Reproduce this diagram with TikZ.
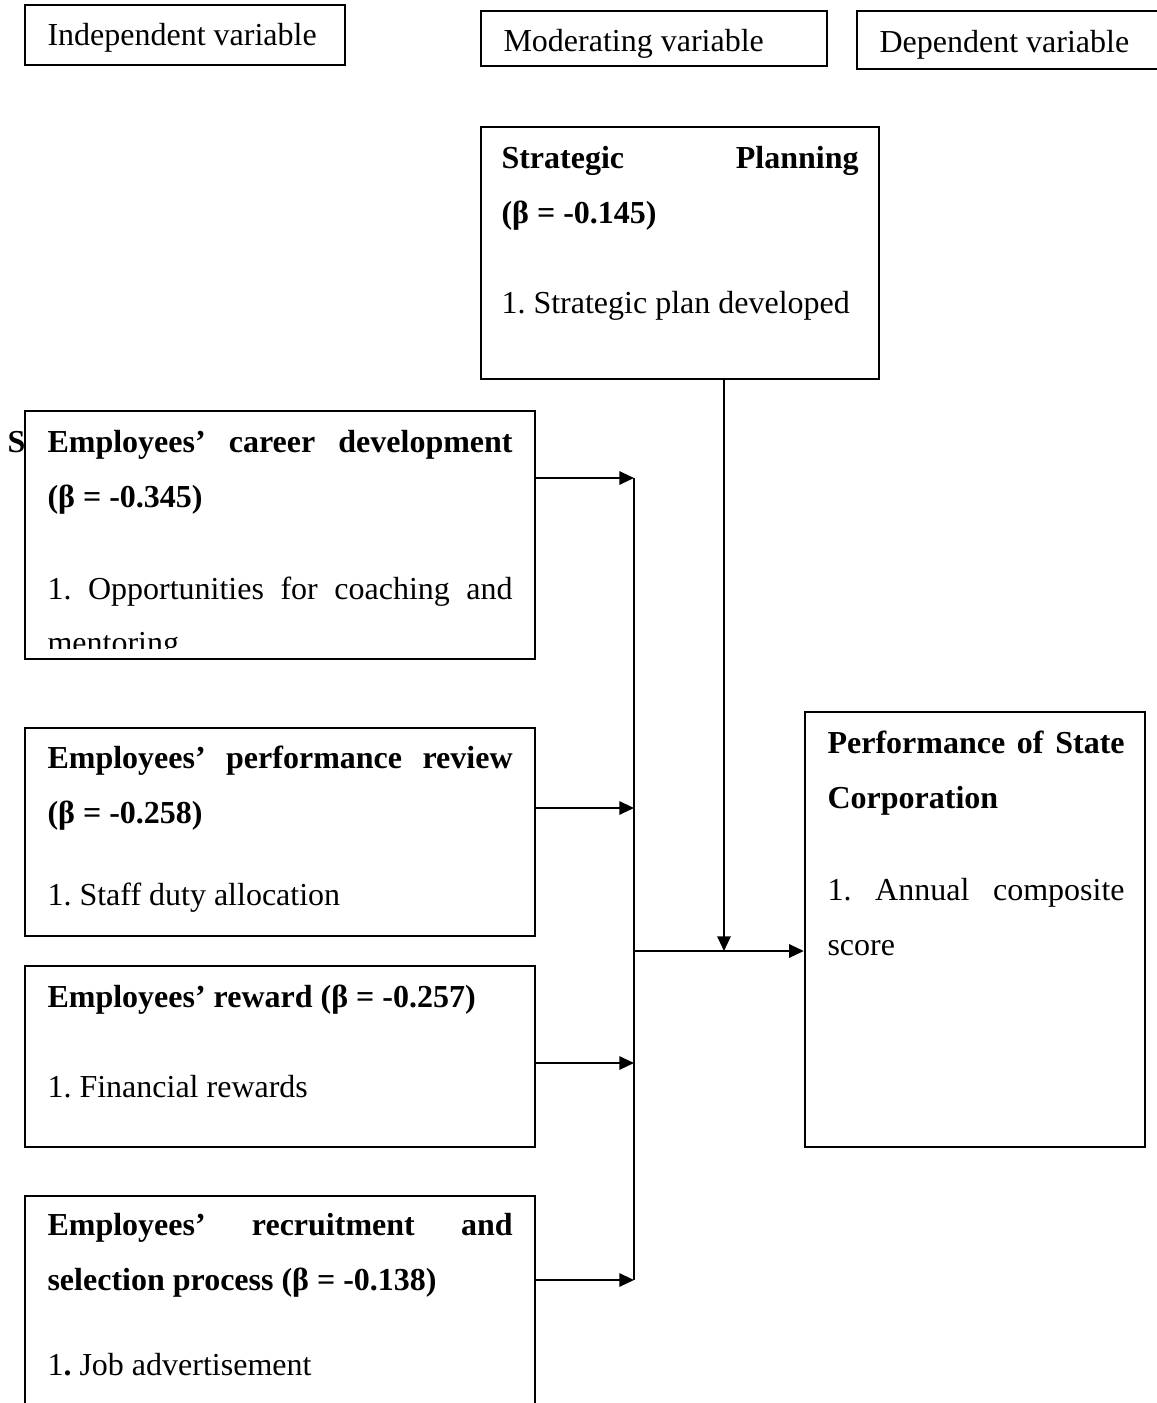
\documentclass[tikz,border=0pt]{standalone}
\usepackage{fontspec}
\setmainfont{Liberation Serif}
\usetikzlibrary{arrows.meta,fit}
\frenchspacing
\newcommand{\jline}[2]{\makebox[#1][s]{#2}}
\begin{document}
\begin{tikzpicture}[x=0.375pt,y=-0.375pt,
  box/.style={draw,line width=0.9pt,inner sep=0pt},
  conn/.style={line width=0.75pt},
  arr/.style={conn,-{Triangle[length=5.5pt,width=5pt]}},
  txt/.style={anchor=base west,inner sep=0pt,font=\fontsize{12}{14}\selectfont\frenchspacing},
  btxt/.style={anchor=base west,inner sep=0pt,font=\fontsize{12}{14}\selectfont\bfseries\frenchspacing}]
\useasboundingbox (0,0) rectangle (1157,1403);

% header boxes
\node[box,fit={(25,5)(345,65)}] (indep) {};
\node[txt] (indepT) at (47,45) {Independent variable};
\node[box,fit={(481,11)(827,66)}] (moder) {};
\node[txt] (moderT) at (503,51) {Moderating variable};
\node[box,fit={(857,11)(1170,69)}] (depen) {};
\node[txt] (depenT) at (879,52) {Dependent variable};

% strategic planning
\node[box,fit={(481,127)(879,379)}] (strat) {};
\node[btxt] (stratT1) at (501,168) {\jline{133.9pt}{Strategic Planning}};
\node[btxt] (stratT2) at (501,223) {(β = -0.145)};
\node[txt] (stratT3) at (501,313) {1. Strategic plan developed};

% career development
\node[btxt] (stray) at (7,452) {S};
\node[box,fit={(25,411)(535,659)}] (career) {};
\node[btxt] (carT1) at (47,452) {\jline{174.4pt}{Employees’ career development}};
\node[btxt] (carT2) at (47,507) {(β = -0.345)};
\node[txt] (carT3) at (47,599) {\jline{174.4pt}{1. Opportunities for coaching and}};
\begin{scope}
\clip (26,412) rectangle (534,648);
\node[txt] (carT4) at (47,653) {mentoring};
\end{scope}

% performance review
\node[box,fit={(25,728)(535,936)}] (review) {};
\node[btxt] (revT1) at (47,768) {\jline{174.4pt}{Employees’ performance review}};
\node[btxt] (revT2) at (47,823) {(β = -0.258)};
\node[txt] (revT3) at (47,905) {1. Staff duty allocation};

% reward
\node[box,fit={(25,966)(535,1147)}] (reward) {};
\node[btxt] (rewT1) at (47,1007) {Employees’ reward (β = -0.257)};
\node[txt] (rewT2) at (47,1097) {1. Financial rewards};

% recruitment
\node[box,fit={(25,1196)(535,1415)}] (recruit) {};
\node[btxt] (recT1) at (47,1235) {\jline{174.4pt}{Employees’ recruitment and}};
\node[btxt] (recT2) at (47,1290) {selection process (β = -0.138)};
\node[txt] (recT3) at (47,1375) {1\textbf{.} Job advertisement};

% dependent: performance of state corporation
\node[box,fit={(805,712)(1145,1147)}] (perf) {};
\node[btxt] (perfT1) at (827,753) {\jline{111.4pt}{Performance of State}};
\node[btxt] (perfT2) at (827,808) {Corporation};
\node[txt] (perfT3) at (827,900) {\jline{111.4pt}{1. Annual composite}};
\node[txt] (perfT4) at (827,955) {score};

% connectors
\coordinate (jA) at (634,478);
\coordinate (jB) at (634,808);
\coordinate (jC) at (634,1063);
\coordinate (jD) at (634,1280);
\coordinate (jM) at (634,951);
\coordinate (jS) at (724,951);
\draw[conn] (jA) -- (jD);
\draw[arr] (career.east |- jA) -- (jA);
\draw[arr] (review.east |- jB) -- (jB);
\draw[arr] (reward.east |- jC) -- (jC);
\draw[arr] (recruit.east |- jD) -- (jD);
\draw[arr] (jM) -- (perf.west |- jM);
\draw[arr] (strat.south -| jS) -- (jS);
\end{tikzpicture}
\end{document}
